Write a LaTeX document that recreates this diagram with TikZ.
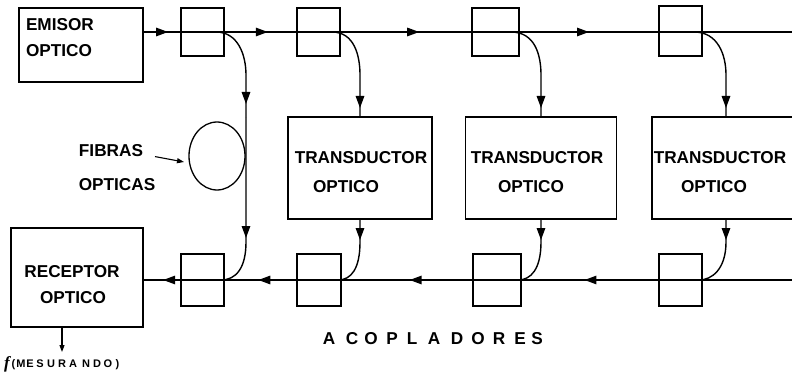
\documentclass[tikz,border=0pt]{standalone}
\usepackage{fontspec}
\setmainfont{Liberation Sans}
\newfontfamily\fserif{Liberation Serif}
\usetikzlibrary{arrows.meta,decorations.markings,calc,shapes.geometric}
\begin{document}
\begin{tikzpicture}[x=1pt,y=-1pt,
  every node/.style={inner sep=0pt, outer sep=0pt},
  blk/.style={draw, line width=1.4pt, rectangle},
  cpl/.style={draw, line width=1.3pt, rectangle},
  lbl/.style={font=\fontsize{17.2}{19}\selectfont\bfseries, anchor=base},
  small/.style={font=\fontsize{11}{12}\selectfont\bfseries, anchor=base},
  wire/.style={line width=1.4pt},
  tipat/.style={postaction={decorate}, decoration={markings, mark=at position #1 with {\arrow{Triangle[length=12pt,width=8.5pt]}}}},
  smallarr/.style={line width=1.1pt, -{Triangle[length=7pt,width=5pt]}},
]
\useasboundingbox (0,0) rectangle (792,382);
\clip (0,0) rectangle (792,382);

% blocks
\node[blk, minimum width=124pt, minimum height=74pt] (emi) at (81,45) {};
\node[blk, minimum width=132pt, minimum height=99pt] (rec) at (77,277.5) {};
\node[blk, minimum width=144pt, minimum height=102pt] (T1) at (360,168) {};
\node[blk, minimum width=151pt, minimum height=102pt] (T2) at (541,168) {};
\node[blk, minimum width=148pt, minimum height=102pt] (T3) at (726,168) {};

% couplers
\node[cpl, minimum width=43pt, minimum height=48pt] (c1) at (202.5,32) {};
\node[cpl, minimum width=43pt, minimum height=48pt] (c2) at (318.5,32) {};
\node[cpl, minimum width=47pt, minimum height=48pt] (c3) at (495.5,32) {};
\node[cpl, minimum width=43pt, minimum height=50pt] (c4) at (680.5,31) {};
\node[cpl, minimum width=43pt, minimum height=52pt] (b1) at (202.5,280) {};
\node[cpl, minimum width=44pt, minimum height=52pt] (b2) at (319,280) {};
\node[cpl, minimum width=48pt, minimum height=52pt] (b3) at (497,280) {};
\node[cpl, minimum width=43pt, minimum height=52pt] (b4) at (680.5,280) {};

% fibre coil
\node[draw, line width=1.3pt, ellipse, minimum width=56pt, minimum height=68pt] (coil) at (217,156) {};

\coordinate (tr) at (800,32);
\coordinate (br) at (800,280);
\coordinate (fa) at (246,118);
\coordinate (out) at (62,352);

% top bus
\draw[wire, tipat=0.66] (c1.west -| emi.east) -- (c1.west);
\draw[wire] (c1.west) -- (c1.east);
\draw[wire, tipat=0.6] (c1.east) -- (c2.west);
\draw[wire] (c2.west) -- (c2.east);
\draw[wire, tipat=0.6] (c2.east) -- (c3.west);
\draw[wire] (c3.west) -- (c3.east);
\draw[wire, tipat=0.5] (c3.east) -- (c4.west |- c3.east);
\draw[wire] (c4.west |- c3.east) -- (tr);

% bottom bus
\draw[wire] (br) -- (b4.east);
\draw[wire] (b4.east) -- (b4.west);
\draw[wire, tipat=0.54] (b4.west) -- (b3.east);
\draw[wire] (b3.east) -- (b3.west);
\draw[wire, tipat=0.48] (b3.west) -- (b2.east);
\draw[wire] (b2.east) -- (b2.west);
\draw[wire, tipat=0.53] (b2.west) -- (b1.east);
\draw[wire] (b1.east) -- (b1.west);
\draw[wire, tipat=0.47] (b1.west) -- (b1.west -| rec.east);

% fibre branch
\draw[wire, tipat=-14pt] ($(c1.east)+(-8,0)$) .. controls ($(c1.east)+(14,0)$) and (246,55) .. (246,75) -- (fa);
\draw[wire, tipat=120pt] (fa) -- (246,242) .. controls (246,268) and (236,280) .. ($(b1.east)+(-3,0)$);

% transducer branches (down)
\draw[wire, tipat=-9pt] ($(c2.east)+(-8,0)$) .. controls ($(c2.east)+(14,0)$) and ($(T1.north)+(0,-62)$) .. ($(T1.north)+(0,-42)$) -- (T1.north);
\draw[wire, tipat=-9pt] ($(c3.east)+(-8,0)$) .. controls ($(c3.east)+(16,0)$) and ($(T2.north)+(0,-62)$) .. ($(T2.north)+(0,-42)$) -- (T2.north);
\draw[wire, tipat=-9pt] ($(c4.east |- c3.east)+(-8,0)$) .. controls ($(c4.east |- c3.east)+(16,0)$) and ($(T3.north)+(0,-62)$) .. ($(T3.north)+(0,-42)$) -- (T3.north);

% transducer branches (return)
\draw[wire, tipat=21pt] (T1.south) -- ($(T1.south)+(0,23)$) .. controls ($(T1.south)+(0,50)$) and ($(b2.east)+(10,0)$) .. ($(b2.east)+(-3,0)$);
\draw[wire, tipat=21pt] (T2.south) -- ($(T2.south)+(0,23)$) .. controls ($(T2.south)+(0,50)$) and ($(b3.east)+(10,0)$) .. ($(b3.east)+(-3,0)$);
\draw[wire, tipat=21pt] (T3.south) -- ($(T3.south)+(0,23)$) .. controls ($(T3.south)+(0,50)$) and ($(b4.east)+(10,0)$) .. ($(b4.east)+(-3,0)$);

% labels
\node[lbl, anchor=base west] (e1) at (26,30.5) {EMISOR};
\node[lbl, anchor=base west] (e2) at (26,57) {OPTICO};
\node[lbl] (r1) at (72,277.5) {RECEPTOR};
\node[lbl] (r2) at (73,303.5) {OPTICO};
\node[lbl] (f1) at (111,156.5) {FIBRAS};
\node[lbl] (f2) at (117,190) {OPTICAS};
\node[lbl] at (361,163.5) {TRANSDUCTOR};
\node[lbl] at (346,192.5) {OPTICO};
\node[lbl] at (537,163.5) {TRANSDUCTOR};
\node[lbl] at (531,192.5) {OPTICO};
\node[lbl] at (720,163.5) {TRANSDUCTOR};
\node[lbl] at (714,192.5) {OPTICO};

\draw[smallarr] ($(f1.east)+(12,6)$) -- ($(coil.west)+(-5,6)$);
\draw[smallarr] (rec.south -| out) -- (out);

\foreach \xx/\ch in {329/A,352/C,371/O,392/P,412/L,434/A,457/D,478/O,499/R,520/E,537/S}
  \node[lbl] at (\xx,344.5) {\ch};

\node[font=\fserif\fontsize{17}{18}\selectfont\bfseries\itshape, anchor=base] at (7,368) {f};
\node[small] at (13.5,367) {(};
\foreach \xx/\ch in {21/M,30/E,40/S,51/U,62/R,73/A,86/N,97/D,108/O}
  \node[small] at (\xx,367) {\ch};
\node[small] at (117.5,367) {)};
\end{tikzpicture}
\end{document}
